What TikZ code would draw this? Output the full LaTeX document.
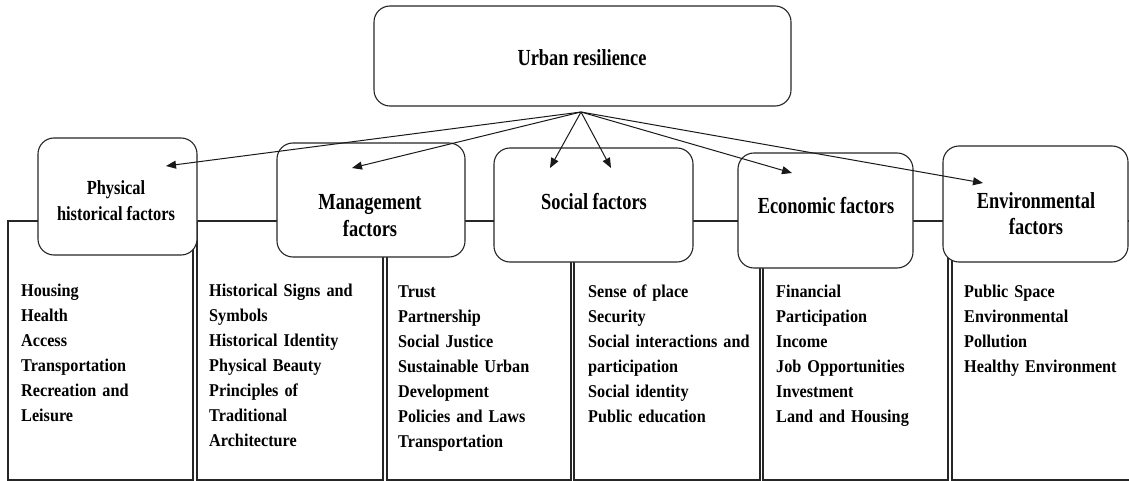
\documentclass[tikz,border=0pt]{standalone}
\usepackage{fontspec}
\setmainfont{Liberation Serif}
\newfontfamily\hdfont[FakeStretch=0.8]{Liberation Serif}
\newfontfamily\phfont[FakeStretch=0.82]{Liberation Serif}
\newfontfamily\lsfont[FakeStretch=0.9]{Liberation Serif}
\usetikzlibrary{arrows.meta}
\begin{document}
\begin{tikzpicture}[x=1pt,y=-1pt,
  colbox/.style={draw=black!85, line width=1.1pt},
  fbox/.style={draw=black!85, fill=white, rounded corners=16pt, line width=1.1pt, inner sep=0pt},
  ftext/.style={font=\hdfont\bfseries\fontsize{23}{26}\selectfont, align=center, anchor=base, inner sep=0pt},
  ptext/.style={font=\phfont\bfseries\fontsize{20}{26}\selectfont, align=center, anchor=base, inner sep=0pt},
  list/.style={font=\lsfont\bfseries\fontsize{18}{25}\selectfont, align=left, anchor=base west, inner sep=0pt, text width=185pt},
  arr/.style={-{Triangle[length=10pt,width=8pt]}, line width=1pt, draw=black!90}]
\useasboundingbox (0,0) rectangle (1129,481);
% columns
\draw[colbox] (8,221) rectangle (193,480);
\draw[colbox] (197,221) rectangle (383,480);
\draw[colbox] (387,221) rectangle (571,480);
\draw[colbox] (574,221) rectangle (760,480);
\draw[colbox] (763,221) rectangle (948,480);
\draw[colbox] (952,221) rectangle (1135,480);
% top box
\node[fbox, minimum width=417pt, minimum height=100pt] (top) at (582.5,56) {};
\node[ftext] (toptxt) at (582,66) {Urban resilience};
% factor boxes
\node[fbox, minimum width=159pt, minimum height=117pt] (phys) at (117.5,196.5) {};
\node[fbox, minimum width=188pt, minimum height=114pt] (mgmt) at (371,200) {};
\node[fbox, minimum width=199pt, minimum height=114pt] (soc) at (593.5,205) {};
\node[fbox, minimum width=175pt, minimum height=115pt] (econ) at (825.5,210.5) {};
\node[fbox, minimum width=185pt, minimum height=116pt] (env) at (1035.5,204) {};
\node[ptext] (physt) at (116,220) {Physical\\historical factors};
\node[ftext] (mgmtt) at (370,236) {Management\\factors};
\node[ftext] (soct) at (594,209) {Social factors};
\node[ftext] (econt) at (826,213) {Economic factors};
\node[ftext] (envt) at (1036,234) {Environmental\\factors};
% arrows
\coordinate (src) at (581,112);
\coordinate (t1) at (166,166);
\coordinate (t2) at (352,168);
\coordinate (t3) at (550,168);
\coordinate (t4) at (611,168);
\coordinate (t5) at (792,173);
\coordinate (t6) at (983,183);
\foreach \t in {t1,t2,t3,t4,t5,t6} \draw[arr] (src) -- (\t);
% lists
\node[list] (l1) at (21,296) {Housing\\Health\\Access\\Transportation\\Recreation and\\Leisure};
\node[list] (l2) at (209,296) {Historical Signs and\\Symbols\\Historical Identity\\Physical Beauty\\Principles of\\Traditional\\Architecture};
\node[list] (l3) at (398,297) {Trust\\Partnership\\Social Justice\\Sustainable Urban\\Development\\Policies and Laws\\Transportation};
\node[list] (l4) at (588,297) {Sense of place\\Security\\Social interactions and\\participation\\Social identity\\Public education};
\node[list] (l5) at (776,297) {Financial\\Participation\\Income\\Job Opportunities\\Investment\\Land and Housing};
\node[list] (l6) at (964,297) {Public Space\\Environmental\\Pollution\\Healthy Environment};
\end{tikzpicture}
\end{document}
